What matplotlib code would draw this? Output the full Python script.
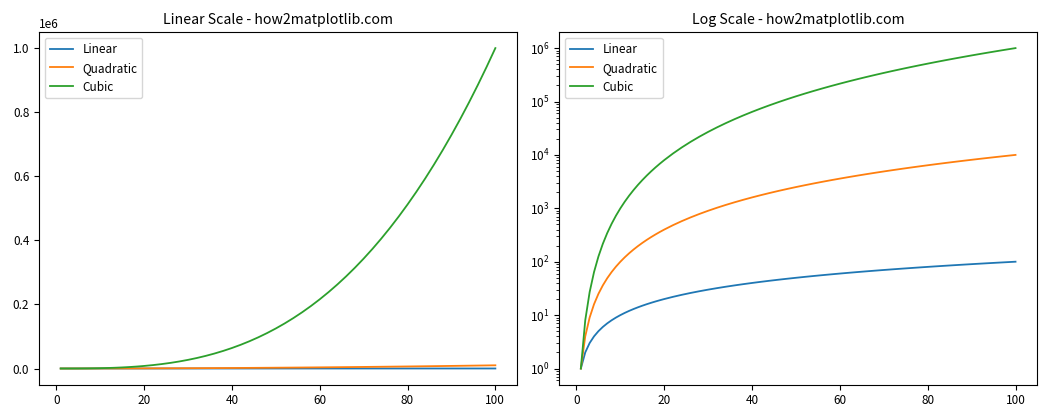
import matplotlib
matplotlib.use('Agg')
import matplotlib.pyplot as plt

plt.rcParams['font.family'] = ['Noto Sans CJK KR', 'DejaVu Sans']
plt.rcParams['font.size'] = 8.5
plt.rcParams['lines.linewidth'] = 1.3
plt.rcParams['axes.unicode_minus'] = False

# values
x = [1, 2, 3, 4, 5, 6, 7, 8, 9, 10, 11, 12, 13, 14, 15, 16, 17, 18, 19, 20,
     22, 24, 26, 28, 30, 32, 34, 36, 38, 40, 42, 44, 46, 48, 50, 52, 54, 56,
     58, 60, 62, 64, 66, 68, 70, 72, 74, 76, 78, 80, 82, 84, 86, 88, 90, 92,
     94, 96, 98, 100]
linear = [1, 2, 3, 4, 5, 6, 7, 8, 9, 10, 11, 12, 13, 14, 15, 16, 17, 18, 19,
          20, 22, 24, 26, 28, 30, 32, 34, 36, 38, 40, 42, 44, 46, 48, 50, 52,
          54, 56, 58, 60, 62, 64, 66, 68, 70, 72, 74, 76, 78, 80, 82, 84, 86,
          88, 90, 92, 94, 96, 98, 100]
quadratic = [1, 4, 9, 16, 25, 36, 49, 64, 81, 100, 121, 144, 169, 196, 225,
             256, 289, 324, 361, 400, 484, 576, 676, 784, 900, 1024, 1156,
             1296, 1444, 1600, 1764, 1936, 2116, 2304, 2500, 2704, 2916, 3136,
             3364, 3600, 3844, 4096, 4356, 4624, 4900, 5184, 5476, 5776, 6084,
             6400, 6724, 7056, 7396, 7744, 8100, 8464, 8836, 9216, 9604, 10000]
cubic = [1, 8, 27, 64, 125, 216, 343, 512, 729, 1000, 1331, 1728, 2197, 2744,
         3375, 4096, 4913, 5832, 6859, 8000, 10648, 13824, 17576, 21952,
         27000, 32768, 39304, 46656, 54872, 64000, 74088, 85184, 97336,
         110592, 125000, 140608, 157464, 175616, 195112, 216000, 238328,
         262144, 287496, 314432, 343000, 373248, 405224, 438976, 474552,
         512000, 551368, 592704, 636056, 681472, 729000, 778688, 830584,
         884736, 941192, 1000000]

series = [('Linear', linear), ('Quadratic', quadratic), ('Cubic', cubic)]

fig, (ax1, ax2) = plt.subplots(1, 2, figsize=(10.5, 4.2), dpi=100)

for name, vals in series:
    ax1.plot(x, vals, label=name)
ax1.set_title('Linear Scale - how2matplotlib.com')
ax1.legend(loc='upper left')

for name, vals in series:
    ax2.plot(x, vals, label=name)
ax2.set_yscale('log')
ax2.set_title('Log Scale - how2matplotlib.com')
ax2.legend(loc='upper left')

plt.tight_layout()
plt.savefig('out.png')
